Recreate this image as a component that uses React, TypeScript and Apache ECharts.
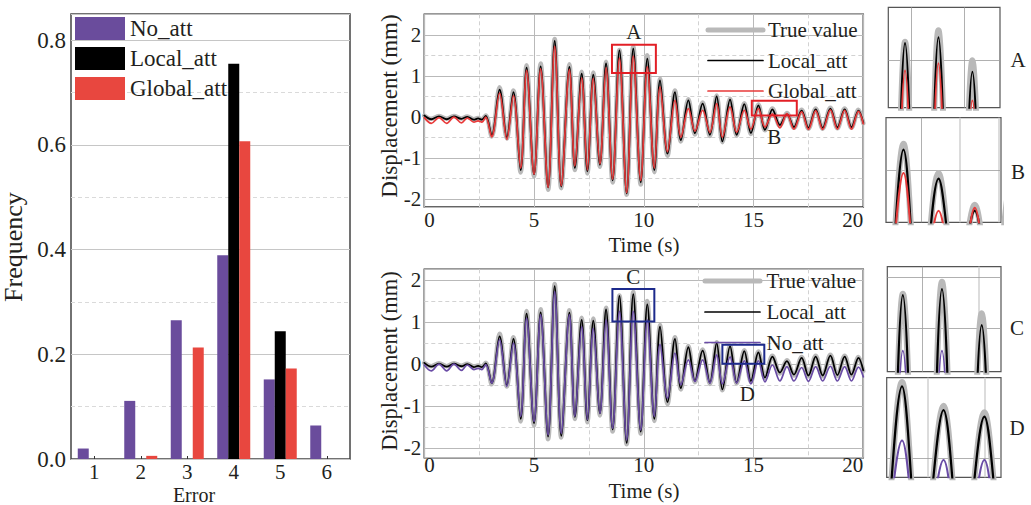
import React, { useEffect, useRef } from 'react';
import * as echarts from 'echarts';

// ---------- Left: error histogram ----------
const errorBins = ['1', '2', '3', '4', '5', '6'];
const freqNoAtt = [0.02, 0.111, 0.265, 0.389, 0.152, 0.064];
const freqLocalAtt = [0, 0, 0, 0.755, 0.244, 0];
const freqGlobalAtt = [0, 0.006, 0.213, 0.607, 0.173, 0];
const freqMinorLines = [0.1, 0.3, 0.5, 0.7];

// ---------- Displacement time histories (extrema) ----------
const timeS = [0.0, 0.32, 0.67, 1.02, 1.35, 1.69, 1.96, 2.26, 2.45, 2.62, 2.8,
  3.07, 3.43, 3.76, 4.06, 4.39, 4.66, 5.0, 5.3, 5.64, 5.94, 6.24, 6.61, 6.86, 7.17, 7.43, 7.7, 8.0, 8.28, 8.58,
  8.89, 9.22, 9.52, 9.86, 10.16, 10.48, 10.74, 11.08, 11.42, 11.69, 12.03, 12.33, 12.68, 13.01, 13.32, 13.58,
  13.93, 14.23, 14.58, 14.88, 15.22, 15.52, 15.86, 16.2, 16.52, 16.84, 17.19, 17.5, 17.83, 18.15, 18.5, 18.82,
  19.15, 19.46, 19.78, 20.0];
const trueDisp = [0.03, -0.05, 0.02, -0.05, 0.02, -0.04, 0.01, -0.06, -0.03, -0.06, 0.03,
  -0.48, 0.72, -0.53, 0.64, -1.36, 1.26, -1.46, 1.3, -1.78, 1.9, -1.74, 1.28, -1.3, 1.1, -1.38, 1.08, -1.22, 1.34, -1.6,
  1.63, -1.9, 1.71, -1.65, 1.5, -1.35, 0.93, -0.95, 0.64, -0.6, 0.43, -0.43, 0.35, -0.47, 0.52, -0.62,
  0.44, -0.46, 0.33, -0.42, 0.3, -0.33, 0.2, -0.22, 0.09, -0.27, 0.17, -0.29, 0.2, -0.29, 0.22, -0.28,
  0.2, -0.27, 0.17, -0.16];
const localDisp = [0.03, -0.06, 0.01, -0.06, 0.01, -0.05, 0.0, -0.07, -0.04, -0.07, 0.02,
  -0.45, 0.66, -0.5, 0.6, -1.3, 1.2, -1.4, 1.23, -1.72, 1.85, -1.7, 1.22, -1.25, 1.05, -1.33, 1.03, -1.17, 1.3, -1.55,
  1.62, -1.87, 1.66, -1.6, 1.42, -1.3, 0.89, -0.9, 0.6, -0.57, 0.4, -0.4, 0.32, -0.44, 0.5, -0.6,
  0.42, -0.44, 0.31, -0.4, 0.28, -0.32, 0.18, -0.2, 0.07, -0.25, 0.15, -0.27, 0.18, -0.27, 0.2, -0.26,
  0.18, -0.25, 0.15, -0.15];
const globalDisp = [-0.02, -0.16, -0.02, -0.16, -0.01, -0.15, -0.03, -0.13, -0.1, -0.13, -0.01,
  -0.49, 0.58, -0.55, 0.52, -1.25, 1.13, -1.4, 1.17, -1.72, 1.72, -1.68, 1.15, -1.2, 0.95, -1.3, 0.94, -1.15, 1.2, -1.52,
  1.43, -1.85, 1.48, -1.55, 1.22, -1.25, 0.73, -0.85, 0.4, -0.5, 0.2, -0.35, 0.16, -0.38, 0.32, -0.5,
  0.24, -0.38, 0.16, -0.3, 0.2, -0.25, 0.07, -0.27, 0.08, -0.3, 0.12, -0.31, 0.15, -0.31, 0.17, -0.3,
  0.16, -0.3, 0.13, -0.17];
const noAttDisp = [-0.02, -0.16, 0.0, -0.16, 0.0, -0.15, -0.02, -0.13, -0.1, -0.13, -0.01,
  -0.45, 0.58, -0.53, 0.5, -1.24, 1.09, -1.36, 1.17, -1.68, 1.72, -1.64, 1.17, -1.24, 0.89, -1.32, 0.85, -1.17, 1.05, -1.52,
  1.25, -1.8, 1.25, -1.56, 1.05, -1.24, 0.47, -0.81, 0.26, -0.49, 0.1, -0.41, 0.1, -0.45, 0.22, -0.47,
  0.17, -0.45, 0.08, -0.47, 0.08, -0.42, -0.02, -0.4, -0.06, -0.4, -0.08, -0.41, -0.06, -0.4, -0.05, -0.4,
  -0.06, -0.4, -0.07, -0.3];
const dispMinorLines = [-1.5, -0.5, 0.5, 1.5];

// legend labels of the two time-history panels
const topLegendNames = ['True value', 'Local_att', 'Global_att'];
const bottomLegendNames = ['True value', 'Local_att', 'No_att'];

// ---------- Zoom boxes (data ranges) and inset views ----------
const boxA = { t: [8.55, 10.55], y: [1.07, 1.76] };
const boxB = { t: [14.92, 16.97], y: [0.03, 0.39] };
const boxC = { t: [8.57, 10.48], y: [1.01, 1.78] };
const boxD = { t: [13.58, 15.49], y: [0.01, 0.46] };
const insetA = { t: [8.575, 10.68], y: [1.17, 1.87], gx: [9, 10], gxLight: [] as number[], gy: [1.5] };
const insetB = { t: [14.9, 17.0], y: [0.03, 0.39], gx: [15.55], gxLight: [16.25, 16.95], gy: [0.21] };
const insetC = { t: [8.64, 10.47], y: [1.11, 1.81], gx: [9.21], gxLight: [10.11], gy: [1.743, 1.4] };
const insetD = { t: [13.69, 15.48], y: [0.0, 0.46], gx: [] as number[], gxLight: [14.34, 15.22], gy: [0.092] };

const FONT = 'Liberation Serif, Times New Roman, serif';
const TXT = '#231f20';
const PURPLE = '#6a4c9c';
const RED = '#e8473f';
const LINE_RED = '#e83a3a';
const LINE_PURPLE = '#6a4ca6';
const GRAY = '#b9b9b9';

const pts = (vals: number[]) => timeS.map((t, i) => [t, vals[i]]);

function lineSeries(name: string, vals: number[], idx: number, color: string, width: number, z: number) {
  return {
    type: 'line',
    name,
    data: pts(vals),
    xAxisIndex: idx,
    yAxisIndex: idx,
    symbol: 'none',
    showSymbol: false,
    smooth: 0.35,
    clip: true,
    silent: true,
    z,
    lineStyle: { color, width, cap: 'round', join: 'round' },
    itemStyle: { color },
  };
}

function gridLineSeries(idx: number, xs: number[], xsLight: number[], ys: number[], dashed: boolean) {
  const base = dashed
    ? { color: '#d2d2d2', width: 1, type: [4, 3] }
    : { color: '#9c9c9c', width: 0.8, type: 'solid' };
  const data: any[] = [];
  xs.forEach((v) => data.push({ xAxis: v, lineStyle: base }));
  xsLight.forEach((v) => data.push({ xAxis: v, lineStyle: { color: '#d4d4d4', width: 1.6, type: 'solid' } }));
  ys.forEach((v) => data.push({ yAxis: v, lineStyle: base }));
  return {
    type: 'line',
    name: 'grid' + idx,
    data: [],
    xAxisIndex: idx,
    yAxisIndex: idx,
    z: 1,
    silent: true,
    markLine: {
      z: 1,
      silent: true,
      symbol: ['none', 'none'],
      label: { show: false },
      lineStyle: base,
      data,
    },
  };
}

function boxSeries(idx: number, color: string, boxes: { b: { t: number[]; y: number[] }; name: string; pos: string; dist: number; dx: number }[]) {
  return {
    type: 'line',
    name: 'boxes' + idx,
    data: [],
    xAxisIndex: idx,
    yAxisIndex: idx,
    z: 6,
    silent: true,
    markArea: {
      z: 6,
      silent: true,
      itemStyle: { color: 'rgba(0,0,0,0)', borderColor: color, borderWidth: 2 },
      data: boxes.map((bx) => [
        {
          name: bx.name,
          xAxis: bx.b.t[0],
          yAxis: bx.b.y[1],
          label: {
            show: true,
            position: bx.pos,
            distance: bx.dist,
            offset: [bx.dx, 0],
            formatter: '{b}',
            fontSize: 21,
            fontFamily: FONT,
            color: TXT,
          },
        },
        { xAxis: bx.b.t[1], yAxis: bx.b.y[0] },
      ]),
    },
  };
}

const frameGrid = (left: number, top: number, width: number, height: number, bw: number, bc: string) => ({
  left, top, width, height,
  show: true,
  borderColor: bc,
  borderWidth: bw,
  backgroundColor: 'rgba(0,0,0,0)',
  containLabel: false,
  outerBoundsMode: 'none',
});

const splitSolid = { show: true, lineStyle: { color: '#b9b9b9', width: 1 } };

function timeAxis(idx: number, margin: number) {
  return {
    type: 'value',
    gridIndex: idx,
    min: 0,
    max: 20,
    interval: 5,
    axisLine: { show: false },
    axisTick: { show: false },
    axisLabel: {
      fontSize: 21, fontFamily: FONT, color: TXT, margin,
      alignMinLabel: 'left', alignMaxLabel: 'right',
    },
    splitLine: splitSolid,
    minorTick: { show: false, splitNumber: 2 },
    minorSplitLine: { show: true, lineStyle: { color: '#d2d2d2', width: 1, type: [4, 3] } },
  };
}

function dispAxis(idx: number, min: number, max: number) {
  return {
    type: 'value',
    gridIndex: idx,
    min,
    max,
    axisLine: { show: false },
    axisTick: { show: false },
    axisLabel: {
      fontSize: 21, fontFamily: FONT, color: TXT, margin: 3,
      showMinLabel: false, showMaxLabel: false,
      formatter: (v: number) => String(Math.round(v)),
    },
    splitLine: splitSolid,
  };
}

function insetAxes(idx: number, r: { t: number[]; y: number[] }) {
  const common = {
    type: 'value',
    gridIndex: idx,
    axisLine: { show: false },
    axisTick: { show: false },
    axisLabel: { show: false },
    splitLine: { show: false },
  };
  return {
    x: { ...common, min: r.t[0], max: r.t[1] },
    y: { ...common, min: r.y[0], max: r.y[1] },
  };
}

const textEl = (text: string, x: number, y: number, size: number, rot = 0, align = 'center', lineHeight?: number) => ({
  type: 'text',
  x, y,
  rotation: rot,
  silent: true,
  z: 10,
  style: {
    text,
    fontSize: size,
    fontFamily: FONT,
    fill: TXT,
    align,
    verticalAlign: 'middle',
    textAlign: align,
    textVerticalAlign: 'middle',
    lineHeight: lineHeight ?? size,
  },
});

function lineLegend(names: string[], colors: string[], widths: number[], x0: number, x1: number, tx: number, ys: number[]) {
  const els: any[] = [];
  names.forEach((n, i) => {
    els.push({
      type: 'line',
      silent: true,
      z: 10,
      shape: { x1: x0, y1: ys[i], x2: x1, y2: ys[i] },
      style: { stroke: colors[i], lineWidth: widths[i], lineCap: 'round' },
    });
    els.push(textEl(n, tx, ys[i], 21, 0, 'left'));
  });
  return els;
}

function buildOption() {
  const ia = insetAxes(3, insetA);
  const ib = insetAxes(4, insetB);
  const ic = insetAxes(5, insetC);
  const id = insetAxes(6, insetD);

  return {
    animation: false,
    backgroundColor: '#ffffff',
    textStyle: { fontFamily: FONT },
    grid: [
      frameGrid(71, 14, 279, 445, 1.5, '#444444'),
      frameGrid(424.3, 14.3, 439, 192.7, 1.5, '#333333'),
      frameGrid(424.3, 269.3, 439, 188.4, 1.5, '#333333'),
      frameGrid(888.3, 7.3, 111.7, 100.4, 1.2, '#555555'),
      frameGrid(886, 117.7, 115, 104.6, 1.2, '#555555'),
      frameGrid(887.3, 266.7, 113.7, 105, 1.2, '#555555'),
      frameGrid(886.7, 377.7, 114.3, 99.6, 1.2, '#555555'),
    ],
    xAxis: [
      {
        type: 'category',
        gridIndex: 0,
        data: errorBins,
        axisLine: { show: false },
        axisTick: { show: true, inside: true, length: 3, alignWithLabel: true, lineStyle: { color: '#333' } },
        axisLabel: { fontSize: 21, fontFamily: FONT, color: TXT, margin: 2 },
        splitLine: { show: false },
      },
      timeAxis(1, 2),
      timeAxis(2, -3),
      ia.x, ib.x, ic.x, id.x,
    ],
    yAxis: [
      {
        type: 'value',
        gridIndex: 0,
        min: 0,
        max: 0.85,
        interval: 0.2,
        axisLine: { show: false },
        axisTick: { show: false },
        axisLabel: {
          fontSize: 23, fontFamily: FONT, color: TXT, margin: 5,
          showMaxLabel: false,
          formatter: (v: number) => v.toFixed(1),
        },
        splitLine: { show: true, lineStyle: { color: '#c6c6c6', width: 1 } },
      },
      dispAxis(1, -2.2, 2.5),
      dispAxis(2, -2.22, 2.25),
      ia.y, ib.y, ic.y, id.y,
    ],
    legend: [
      {
        data: ['No_att', 'Local_att', 'Global_att'],
        orient: 'vertical',
        left: 75,
        top: 17,
        itemWidth: 50,
        itemHeight: 23,
        itemGap: 7,
        icon: 'rect',
        padding: 0,
        selectedMode: false,
        textStyle: { fontSize: 23, fontFamily: FONT, color: TXT },
      },
    ],
    series: [
      // histogram
      {
        type: 'line', name: 'histMinor', data: [], xAxisIndex: 0, yAxisIndex: 0, z: 1, silent: true,
        markLine: {
          z: 1,
          silent: true, symbol: ['none', 'none'], label: { show: false },
          lineStyle: { color: '#dadada', width: 1, type: [4, 3] },
          data: freqMinorLines.map((v) => ({ yAxis: v })),
        },
      },
      { type: 'bar', name: 'No_att', data: freqNoAtt, xAxisIndex: 0, yAxisIndex: 0, barWidth: 11, barGap: '0%', itemStyle: { color: PURPLE }, z: 2 },
      { type: 'bar', name: 'Local_att', data: freqLocalAtt, xAxisIndex: 0, yAxisIndex: 0, barWidth: 11, barGap: '0%', itemStyle: { color: '#000000' }, z: 2 },
      { type: 'bar', name: 'Global_att', data: freqGlobalAtt, xAxisIndex: 0, yAxisIndex: 0, barWidth: 11, barGap: '0%', itemStyle: { color: RED }, z: 2 },

      // top time history
      gridLineSeries(1, [], [], dispMinorLines, true),
      lineSeries('top-true', trueDisp, 1, GRAY, 4.5, 2),
      lineSeries('top-local', localDisp, 1, '#000000', 1.8, 3),
      lineSeries('top-global', globalDisp, 1, LINE_RED, 1.7, 4),
      boxSeries(1, '#e21f26', [
        { b: boxA, name: 'A', pos: 'top', dist: 1, dx: 0 },
        { b: boxB, name: 'B', pos: 'bottom', dist: 10, dx: 0 },
      ]),

      // bottom time history
      gridLineSeries(2, [], [], dispMinorLines, true),
      lineSeries('bot-true', trueDisp, 2, GRAY, 4.5, 2),
      lineSeries('bot-local', localDisp, 2, '#000000', 1.8, 3),
      lineSeries('bot-noatt', noAttDisp, 2, LINE_PURPLE, 1.7, 4),
      boxSeries(2, '#1d2a8c', [
        { b: boxC, name: 'C', pos: 'top', dist: 1, dx: 0 },
        { b: boxD, name: 'D', pos: 'bottom', dist: 19, dx: 4 },
      ]),

      // inset A
      gridLineSeries(3, insetA.gx, insetA.gxLight, insetA.gy, false),
      lineSeries('inA-true', trueDisp, 3, GRAY, 6, 2),
      lineSeries('inA-local', localDisp, 3, '#000000', 2.2, 3),
      lineSeries('inA-global', globalDisp, 3, LINE_RED, 2, 4),
      // inset B
      gridLineSeries(4, insetB.gx, insetB.gxLight, insetB.gy, false),
      lineSeries('inB-true', trueDisp, 4, GRAY, 6, 2),
      lineSeries('inB-local', localDisp, 4, '#000000', 2.2, 3),
      lineSeries('inB-global', globalDisp, 4, LINE_RED, 2, 4),
      // inset C
      gridLineSeries(5, insetC.gx, insetC.gxLight, insetC.gy, false),
      lineSeries('inC-true', trueDisp, 5, GRAY, 6, 2),
      lineSeries('inC-local', localDisp, 5, '#000000', 2.2, 3),
      lineSeries('inC-noatt', noAttDisp, 5, LINE_PURPLE, 2, 4),
      // inset D
      gridLineSeries(6, insetD.gx, insetD.gxLight, insetD.gy, false),
      lineSeries('inD-true', trueDisp, 6, GRAY, 6, 2),
      lineSeries('inD-local', localDisp, 6, '#000000', 2.2, 3),
      lineSeries('inD-noatt', noAttDisp, 6, LINE_PURPLE, 2, 4),
    ],
    graphic: [
      textEl('Frequency', 13, 247, 26, Math.PI / 2),
      textEl('Error', 194, 495, 20),
      textEl('Displacement (mm)', 389, 106, 23, Math.PI / 2),
      textEl('Displacement (mm)', 389, 361, 22.5, Math.PI / 2),
      textEl('Time (s)', 644, 245, 21),
      textEl('Time (s)', 644, 491, 21),
      textEl('A', 1018, 60, 21),
      textEl('B', 1018, 172, 21),
      textEl('C', 1017, 328, 21),
      textEl('D', 1017, 428, 21),
      ...lineLegend(topLegendNames, [GRAY, '#000000', LINE_RED], [5, 1.7, 1.7], 708, 763, 768, [30, 60.5, 91]),
      ...lineLegend(bottomLegendNames, [GRAY, '#000000', LINE_PURPLE], [5, 1.7, 1.7], 705, 760, 766.5, [281, 312, 342.5]),
    ],
  };
}

export default function App() {
  const ref = useRef<HTMLDivElement>(null);
  useEffect(() => {
    if (!ref.current) return;
    const chart = echarts.init(ref.current, undefined, { renderer: 'svg' });
    chart.setOption(buildOption() as any);
    return () => chart.dispose();
  }, []);
  return (
    <div
      ref={ref}
      style={{ position: 'absolute', left: 0, top: 0, width: 1031, height: 505, background: '#fff' }}
    />
  );
}
